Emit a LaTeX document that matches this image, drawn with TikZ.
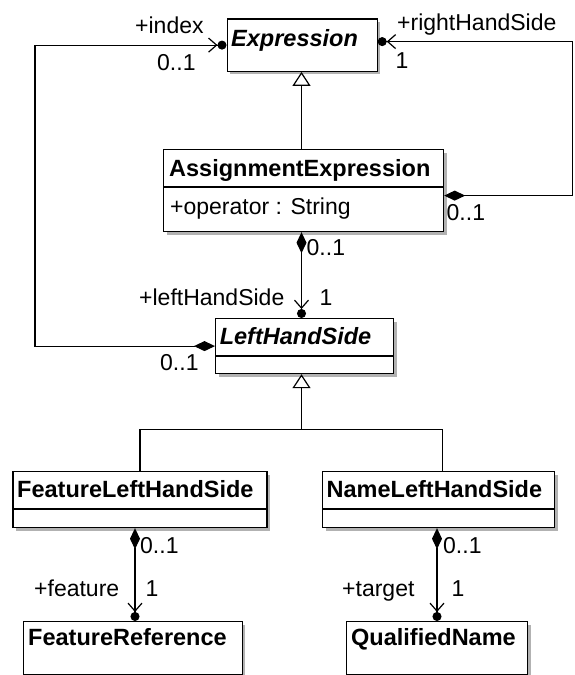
\documentclass[tikz,border=0pt]{standalone}
\usepackage{fontspec}
\setmainfont{Liberation Sans}
\usetikzlibrary{arrows.meta,shadows}

\begin{document}
\begin{tikzpicture}[x=1pt, y=-1pt, font=\fontsize{23}{27}\selectfont,
  box/.style={draw, line width=1.2pt, fill=white, anchor=north west, inner sep=0pt,
    drop shadow={shadow xshift=3pt, shadow yshift=-3pt, fill=black!30, opacity=1}},
  title/.style={anchor=base west, inner sep=0pt, font=\fontsize{23.5}{27}\selectfont\bfseries},
  abstitle/.style={title, font=\fontsize{23.5}{27}\selectfont\bfseries\itshape},
  lbl/.style={anchor=base west, inner sep=0pt},
  link/.style={line width=1.2pt},
  compo/.style={link, {Diamond[length=21pt,width=10pt]}-{Straight Barb[length=8pt,width=14pt] Circle[length=9pt]}},
  gen/.style={link, -{Triangle[open,length=14pt,width=18pt,fill=white]}}]
\useasboundingbox (0,0) rectangle (574,675);

% Classes
\node[box, minimum width=150, minimum height=52.4] (expr) at (226.5,18.3) {};
\node[box, minimum width=280, minimum height=82] (assign) at (163,149) {};
\node[box, minimum width=178, minimum height=55] (lhs) at (215,318) {};
\node[box, minimum width=254, minimum height=56] (featlhs) at (12.3,471) {};
\node[box, minimum width=232, minimum height=56] (namelhs) at (322,471) {};
\node[box, minimum width=219, minimum height=53] (featref) at (22.7,621) {};
\node[box, minimum width=181, minimum height=53] (qname) at (346,621) {};

% Compartments
\draw[link] ([yshift=-38pt]assign.north west) -- ([yshift=-38pt]assign.north east);
\draw[link] ([yshift=-38pt]lhs.north west) -- ([yshift=-38pt]lhs.north east);
\draw[link] ([yshift=-38pt]featlhs.north west) -- ([yshift=-38pt]featlhs.north east);
\draw[link] ([yshift=-38pt]namelhs.north west) -- ([yshift=-38pt]namelhs.north east);

% Names
\node[abstitle] (exprname) at (231,46.7) {Expression};
\node[title] (assignname) at (169,176) {AssignmentExpression};
\node[lbl] (assignattr) at (170,214) {+operator : String};
\node[abstitle] (lhsname) at (219.6,344) {LeftHandSide};
\node[title] (featlhsname) at (17,497) {FeatureLeftHandSide};
\node[title] (namelhsname) at (326.5,497) {NameLeftHandSide};
\node[title] (featrefname) at (28,645) {FeatureReference};
\node[title] (qnamename) at (351,645) {QualifiedName};

% Bends
\coordinate (midx) at (301.5,0);
\coordinate (leftx) at (35,0);
\coordinate (rightx) at (572.5,0);
\coordinate (featx) at (135,0);
\coordinate (namex) at (437,0);
\coordinate (genbar) at (301.5,429.3);
\coordinate (namegen) at ([xshift=4pt]namelhs.north);
\coordinate (rhsa) at ([yshift=-5pt]assign.east);
\coordinate (rhse) at ([yshift=3.5pt]expr.east);

% Generalizations
\draw[gen] (assign.north -| midx) -- (expr.south -| midx);
\draw[link] (featlhs.north) |- (genbar);
\draw[link] (namegen) |- (genbar);
\draw[gen] (genbar) -- (lhs.south -| genbar);

% Associations
\draw[compo] (lhs.west) -- (lhs.west -| leftx) -- (expr.west -| leftx) -- (expr.west);
\draw[compo] (rhsa) -- (rhsa -| rightx) -- (rhse -| rightx) -- (rhse);
\draw[compo] (assign.south -| midx) -- (lhs.north -| midx);
\draw[compo] (featlhs.south -| featx) -- (featref.north -| featx);
\draw[compo] (namelhs.south -| namex) -- (qname.north -| namex);

% Role names and multiplicities
\node[lbl] (idxrole) at (135,33) {+index};
\node[lbl] (idxmult) at (157,70) {0..1};
\node[lbl] (rhsrole) at (397,30) {+rightHandSide};
\node[lbl] (rhsmult) at (395.5,68) {1};
\node[lbl] (rhsown) at (446.5,220) {0..1};
\node[lbl] (lhsown) at (306.5,255) {0..1};
\node[lbl] (lhsrole) at (139,305) {+leftHandSide};
\node[lbl] (lhsmult) at (319.5,305) {1};
\node[lbl] (idxown) at (160,370) {0..1};
\node[lbl] (featown) at (140,553) {0..1};
\node[lbl] (featrole) at (34,596) {+feature};
\node[lbl] (featmult) at (145.5,596) {1};
\node[lbl] (tgtown) at (443,553) {0..1};
\node[lbl] (tgtrole) at (342,596) {+target};
\node[lbl] (tgtmult) at (451.5,596) {1};

\end{tikzpicture}
\end{document}
